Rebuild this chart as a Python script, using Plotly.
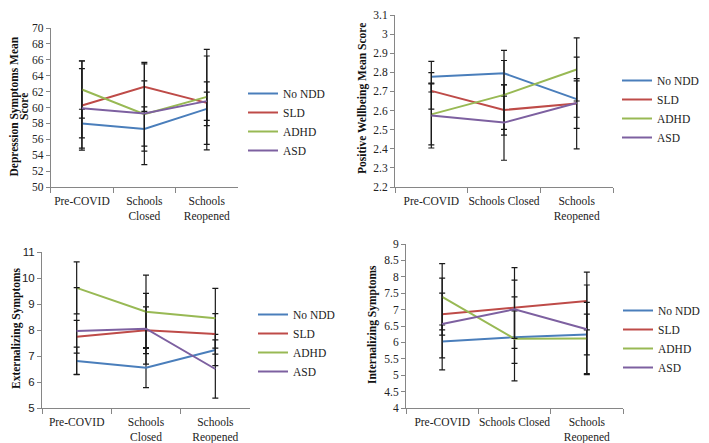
import plotly.graph_objects as go

# --- data ---------------------------------------------------------------
groups = ["No NDD", "SLD", "ADHD", "ASD"]
colors = ["#4a7ebb", "#be4b48", "#98b954", "#7d60a0"]

cats_wrap = ["Pre-COVID", "Schools<br>Closed", "Schools<br>Reopened"]
cats_flat = ["Pre-COVID", "Schools Closed", "Schools<br>Reopened"]

# depression symptoms
dep_nondd = [57.98, 57.3, 59.83]
dep_sld = [60.25, 62.6, 60.58]
dep_adhd = [62.27, 59.16, 61.34]
dep_asd = [59.9, 59.24, 60.8]
dep_nondd_err = [1.8, 2.78, 2.1]
dep_sld_err = [5.6, 3.08, 5.9]
dep_adhd_err = [3.6, 6.34, 5.97]
dep_asd_err = [5.0, 4.11, 2.43]
dep_ticks = [50, 52, 54, 56, 58, 60, 62, 64, 66, 68, 70]

# positive wellbeing
wb_nondd = [2.777, 2.795, 2.66]
wb_sld = [2.703, 2.603, 2.637]
wb_adhd = [2.58, 2.682, 2.815]
wb_asd = [2.574, 2.537, 2.64]
wb_nondd_err = [0.08, 0.12, 0.095]
wb_sld_err = [0.095, 0.132, 0.13]
wb_adhd_err = [0.16, 0.18, 0.165]
wb_asd_err = [0.17, 0.197, 0.24]
wb_ticks = [2.2, 2.3, 2.4, 2.5, 2.6, 2.7, 2.8, 2.9, 3.0, 3.1]
wb_ticktext = ["2.2", "2.3", "2.4", "2.5", "2.6", "2.7", "2.8", "2.9", "3", "3.1"]

# externalizing
ext_nondd = [6.81, 6.55, 7.23]
ext_sld = [7.74, 7.99, 7.85]
ext_adhd = [9.62, 8.70, 8.45]
ext_asd = [7.96, 8.05, 6.5]
ext_nondd_err = [0.53, 0.77, 0.6]
ext_sld_err = [0.63, 0.9, 0.78]
ext_adhd_err = [1.0, 1.41, 1.15]
ext_asd_err = [1.67, 1.36, 1.12]
ext_ticks = [5, 6, 7, 8, 9, 10, 11]

# internalizing
int_nondd = [6.03, 6.16, 6.24]
int_sld = [6.86, 7.05, 7.26]
int_adhd = [7.39, 6.11, 6.12]
int_asd = [6.56, 7.01, 6.40]
int_nondd_err = [0.5, 0.8, 0.62]
int_sld_err = [0.64, 1.23, 0.88]
int_adhd_err = [1.01, 1.28, 1.1]
int_asd_err = [1.4, 0.89, 1.35]
int_ticks = [4, 4.5, 5, 5.5, 6, 6.5, 7, 7.5, 8, 8.5, 9]
int_ticktext = ["4", "4.5", "5", "5.5", "6", "6.5", "7", "7.5", "8", "8.5", "9"]

# page is 709x443, but the html body has an 8px margin, so the figure
# itself is a bit smaller and everything is positioned in page pixels
PAGE_W, PAGE_H = 709, 443
PAD = 8
W, H = PAGE_W - PAD, PAGE_H - PAD


def px(x):
    return (x - PAD) / W


def py(y):
    return min(1.0, max(0.0, 1 - (y - PAD) / H))


SERIF = "Liberation Serif, Times New Roman, serif"
SANS = "Liberation Sans, Arial, sans-serif"
AXIS_GREY = "#868686"

# panel boxes in page pixels: (x0, x1, ytop, ybottom)
# y titles: list of (line text, x centre) so two-line titles can sit tight
panels = [
    dict(cats=cats_wrap, means=[dep_nondd, dep_sld, dep_adhd, dep_asd],
         errs=[dep_nondd_err, dep_sld_err, dep_adhd_err, dep_asd_err],
         ticks=dep_ticks, ticktext=[str(t) for t in dep_ticks], tickfont=SERIF,
         box=(50.7, 238, 28, 187),
         titles=[("Depression Symptoms Mean", 13.5), ("Score", 24)],
         title_y=107, legend_x=243, legend_top=79),
    dict(cats=cats_flat, means=[wb_nondd, wb_sld, wb_adhd, wb_asd],
         errs=[wb_nondd_err, wb_sld_err, wb_adhd_err, wb_asd_err],
         ticks=wb_ticks, ticktext=wb_ticktext, tickfont=SERIF,
         box=(395, 613, 15, 187),
         titles=[("Positive Wellbeing Mean Score", 362)],
         title_y=99, legend_x=617, legend_top=66),
    dict(cats=cats_wrap, means=[ext_nondd, ext_sld, ext_adhd, ext_asd],
         errs=[ext_nondd_err, ext_sld_err, ext_adhd_err, ext_asd_err],
         ticks=ext_ticks, ticktext=[str(t) for t in ext_ticks], tickfont=SANS,
         box=(42, 250, 252, 408),
         titles=[("Externalizing Symptoms", 16)],
         title_y=328, legend_x=253, legend_top=300),
    dict(cats=cats_flat, means=[int_nondd, int_sld, int_adhd, int_asd],
         errs=[int_nondd_err, int_sld_err, int_adhd_err, int_asd_err],
         ticks=int_ticks, ticktext=int_ticktext, tickfont=SERIF,
         box=(406, 623, 244, 408),
         titles=[("Internalizing Symptoms", 372)],
         title_y=325, legend_x=618, legend_top=296),
]

fig = go.Figure()
layout = {}
annotations = []

for i, p in enumerate(panels, start=1):
    sfx = "" if i == 1 else str(i)
    leg = "legend" if i == 1 else f"legend{i}"
    x0, x1, yt, yb = p["box"]

    for g, col, m, e in zip(groups, colors, p["means"], p["errs"]):
        fig.add_trace(go.Scatter(
            x=p["cats"], y=m, name=g, mode="lines",
            line=dict(color=col, width=2),
            error_y=dict(type="data", array=e, visible=True,
                         color="#1a1a1a", thickness=1.2, width=3),
            xaxis=f"x{sfx}", yaxis=f"y{sfx}", legend=leg,
            hoverinfo="skip",
        ))

    layout[f"xaxis{sfx}"] = dict(
        domain=[px(x0), px(x1)], anchor=f"y{sfx}", type="category",
        range=[-0.5, 2.5], tickson="boundaries", ticks="outside",
        ticklen=5, tickcolor=AXIS_GREY, showline=True, linecolor=AXIS_GREY,
        linewidth=1, showgrid=False, zeroline=False, tickangle=0,
        automargin=False, ticklabelstandoff=3,
        tickfont=dict(family=SERIF, size=11.5, color="#222"),
        fixedrange=True,
    )
    lo, hi = p["ticks"][0], p["ticks"][-1]
    layout[f"yaxis{sfx}"] = dict(
        domain=[py(yb), py(yt)], anchor=f"x{sfx}",
        range=[lo, hi], tickvals=p["ticks"], ticktext=p["ticktext"],
        ticks="outside", ticklen=4, tickcolor=AXIS_GREY,
        showline=True, linecolor=AXIS_GREY, linewidth=1,
        showgrid=False, zeroline=False, automargin=False,
        ticklabeloverflow="allow",
        tickfont=dict(family=p["tickfont"], size=11.5, color="#222"),
        fixedrange=True,
    )
    layout[leg] = dict(
        x=px(p["legend_x"]), y=py(p["legend_top"]),
        xanchor="left", yanchor="top", bgcolor="rgba(0,0,0,0)",
        font=dict(family=SERIF, size=11.5, color="#222"),
        itemwidth=30, tracegroupgap=0,
    )
    for text, tx in p["titles"]:
        annotations.append(dict(
            text=f"<b>{text}</b>", textangle=-90,
            x=px(tx), y=py(p["title_y"]),
            xref="paper", yref="paper", showarrow=False,
            xanchor="center", yanchor="middle",
            font=dict(family=SERIF, size=11.5, color="#111"),
        ))

fig.update_layout(
    width=W, height=H,
    margin=dict(l=0, r=0, t=0, b=0, autoexpand=False),
    paper_bgcolor="white", plot_bgcolor="white",
    annotations=annotations,
    showlegend=True,
    **layout,
)

fig.write_html("out.html")
